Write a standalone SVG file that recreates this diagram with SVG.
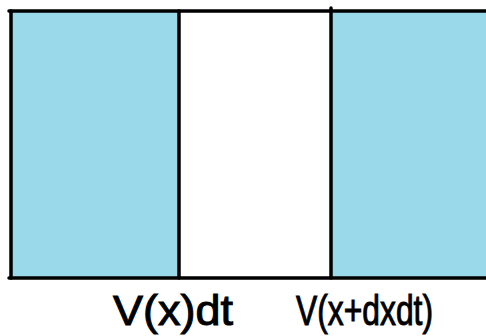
<svg xmlns="http://www.w3.org/2000/svg" width="486" height="336" viewBox="0 0 486 336">
<style>
.fill{fill:#99D9EA;stroke:none}
.ln{stroke:#000;stroke-width:3.5;fill:none;stroke-linecap:round}
.lbl{font-family:"Liberation Sans",Arial,sans-serif;font-size:42px;fill:#000;stroke:#000;stroke-width:1}
</style>
<rect width="486" height="336" fill="#fff"/>
<g id="left-region"><rect class="fill" x="11" y="11" width="168" height="267"/></g>
<g id="middle-region"><rect x="179" y="11" width="152" height="267" fill="#fff"/></g>
<g id="right-region"><rect class="fill" x="331" y="11" width="155" height="267"/></g>
<g id="connectors">
<line class="ln" x1="9" y1="11" x2="486" y2="11"/>
<line class="ln" x1="9" y1="278" x2="486" y2="278"/>
<line class="ln" x1="11" y1="11" x2="11" y2="278"/>
<line class="ln" x1="179" y1="11" x2="179" y2="278"/>
<line class="ln" x1="331" y1="8" x2="331" y2="278"/>
</g>
<g id="label-left"><text class="lbl" x="113" y="325" textLength="120" lengthAdjust="spacingAndGlyphs">V(x)dt</text></g>
<g id="label-right"><text class="lbl" x="296" y="325" textLength="137" lengthAdjust="spacingAndGlyphs">V(x+dxdt)</text></g>
</svg>
